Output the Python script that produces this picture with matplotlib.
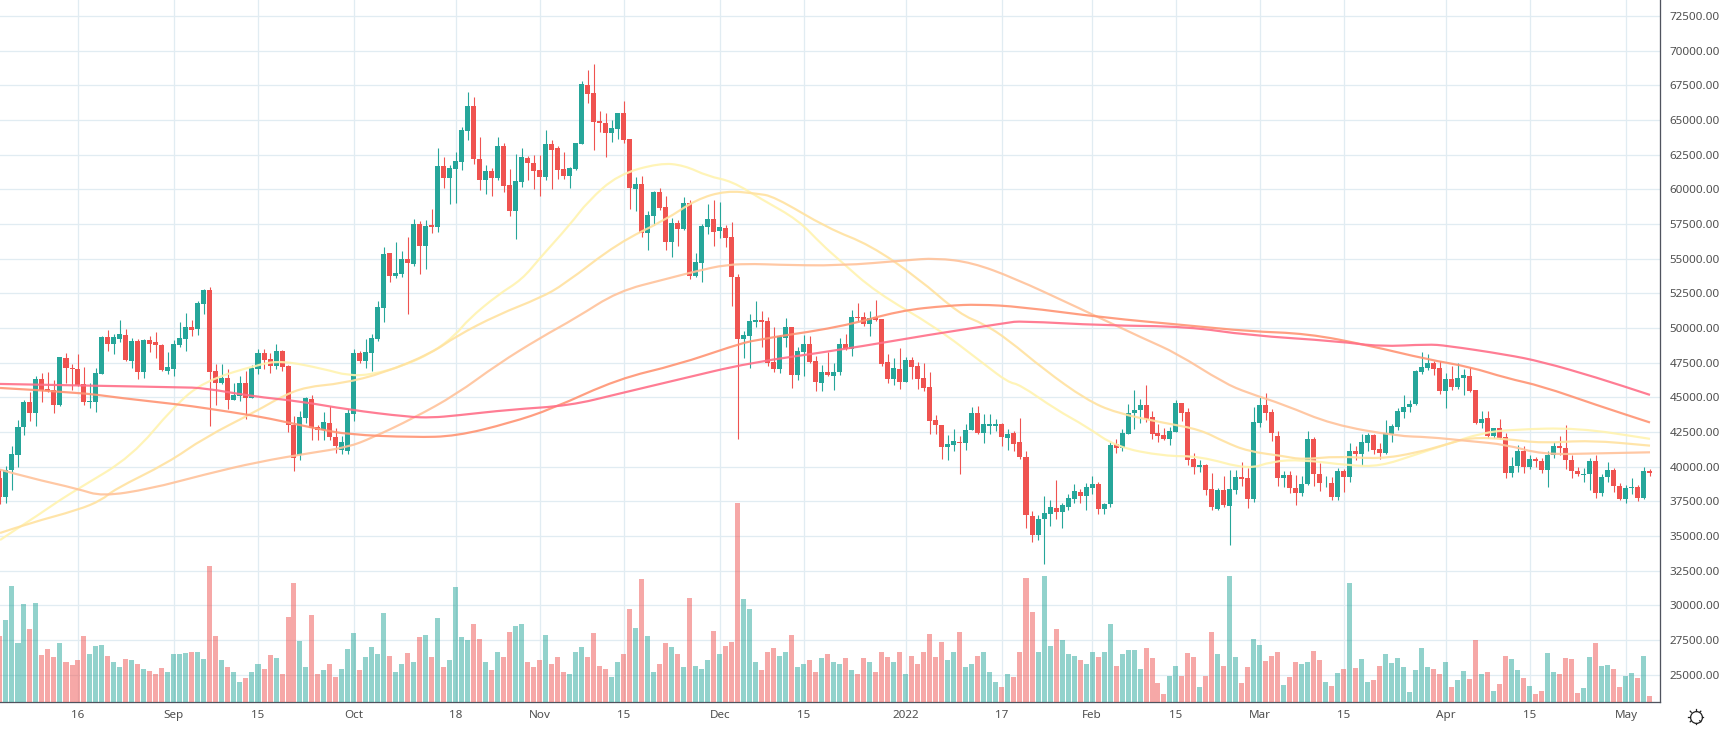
import matplotlib

matplotlib.use("Agg")
import matplotlib.pyplot as plt
from matplotlib.patches import PathPatch
from matplotlib.path import Path
import numpy as np

plt.rcParams["font.family"] = ["Noto Sans", "DejaVu Sans"]

# daily candles, first one is Aug 3 2021
opens = [
    39200, 37800, 39730, 40860, 42840, 44690, 43850, 46350, 45620, 45550,
    44420, 47860, 47140, 47070, 45980, 44640, 44690, 46700, 49370, 48870,
    49230, 49520, 47640, 49090, 46850, 49160, 49010, 48800, 46920, 47070,
    48800, 49230, 50100, 49950, 51750, 52760, 46920, 46060, 46420, 44830,
    45120, 46060, 44980, 47070, 48220, 47790, 47280, 48370, 47280, 43030,
    40800, 43530, 44900, 42880, 42670, 43170, 42160, 41200, 41100, 43820,
    48220, 47640, 48220, 49230, 51470, 55430, 53770, 53920, 55000, 54640,
    57520, 55940, 57450, 57310, 61710, 60840, 61490, 62000, 64230, 66030,
    62210, 60700, 61350, 60840, 63150, 60340, 58460, 60550, 62280, 61920,
    61420, 60910, 63290, 63000, 61490, 60990, 61490, 63290, 67550, 66970,
    64950, 64810, 64090, 64380, 65530, 63650, 60050, 60410, 56880, 58100,
    59830, 58750, 56230, 57600, 57160, 59040, 53770, 54710, 57310, 57890,
    57020, 57240, 56590, 53700, 49230, 49450, 50460, 50600, 50530, 47570,
    47070, 49300, 50100, 46630, 48290, 48870, 47640, 46060, 46850, 46560,
    46850, 48870, 48510, 50820, 50820, 50310, 50820, 50670, 47570, 46350,
    47070, 46130, 47720, 47280, 46420, 45770, 43390, 43030, 41440, 41590,
    41800, 41730, 42670, 43890, 42450, 42960, 42960, 43100, 42090, 42450,
    41800, 40720, 36450, 35050, 36250, 36600, 37040, 36700, 37110, 37690,
    38200, 37910, 38490, 38770, 36940, 37330, 41660, 41370, 42380, 43890,
    44110, 44470, 43610, 42450, 42310, 42020, 42520, 44620, 43960, 40580,
    40000, 40140, 38410, 36970, 38340, 37190, 38340, 39280, 39210, 37690,
    43170, 44470, 43970, 42240, 39150, 39400, 38420, 38060, 38740, 42020,
    39440, 38790, 38810, 37790, 39670, 39280, 41150, 40940, 41730, 42310,
    41300, 41010, 42380, 42880, 43970, 44330, 44540, 46850, 47140, 47500,
    47140, 45480, 46350, 45770, 46420, 46560, 45550, 43170, 43530, 42240,
    42810, 42150, 39530, 40070, 41150, 39940, 40550, 40420, 39720, 40830,
    41500, 41360, 40480, 39700, 39420, 39450, 40430, 38120, 39230, 39740,
    38600, 37630, 38470, 38520, 37730, 39690,
]
closes = [
    37800, 39780, 40940, 42880, 44690, 43850, 46350, 45550, 45480, 44420,
    47930, 47090, 47020, 45910, 44690, 44760, 46780, 49370, 48870, 49370,
    49590, 47720, 49090, 46850, 49160, 48870, 48800, 47000, 47210, 48870,
    49300, 50100, 49880, 51830, 52760, 46850, 46060, 46420, 44830, 45190,
    46060, 44980, 47140, 48220, 47720, 47280, 48370, 47210, 43030, 40620,
    43600, 44980, 42810, 42670, 43240, 42160, 41500, 41800, 43890, 48220,
    47640, 48290, 49300, 51540, 55360, 53770, 53990, 55000, 54710, 57520,
    55940, 57380, 57310, 61710, 60840, 61560, 62070, 64300, 66030, 62210,
    60700, 61350, 60840, 63150, 60260, 58460, 60630, 62360, 61920, 61350,
    60910, 63290, 62860, 61420, 60990, 61560, 63370, 67620, 66900, 64880,
    64810, 64090, 64450, 65530, 63580, 60120, 60410, 56880, 58170, 59830,
    58680, 56230, 57600, 57160, 59040, 53770, 54780, 57380, 57890, 56950,
    57310, 56510, 53700, 49230, 49520, 50530, 50580, 50460, 47500, 47070,
    49450, 50100, 46630, 48360, 48870, 47570, 46130, 46850, 46630, 46850,
    48870, 48510, 50820, 50750, 50310, 50750, 50600, 47430, 46350, 47140,
    46130, 47720, 47210, 46350, 45700, 43320, 43030, 41440, 41660, 41870,
    41730, 42670, 43890, 42450, 43100, 43100, 43100, 42160, 42380, 41660,
    40720, 36500, 35050, 36250, 36650, 37050, 36700, 37260, 37760, 38270,
    37910, 38560, 38770, 36950, 37330, 41590, 41370, 42450, 43890, 44110,
    44470, 43460, 42380, 42240, 42020, 42600, 44620, 43890, 40500, 40000,
    40140, 38340, 37050, 38340, 37260, 38410, 39280, 39130, 37690, 43250,
    44470, 43890, 42450, 39150, 39400, 38420, 38060, 38740, 42020, 39440,
    38790, 38810, 37790, 39670, 39280, 41150, 40940, 41800, 42310, 41230,
    41010, 42450, 42960, 44040, 44330, 44540, 46920, 47210, 47500, 47070,
    45480, 46350, 45770, 46420, 46630, 45480, 43170, 43460, 42240, 42810,
    42090, 39530, 40070, 41150, 39940, 40550, 40420, 39720, 40830, 41500,
    41360, 40480, 39700, 39450, 39460, 40430, 38120, 39230, 39740, 38600,
    37630, 38470, 38520, 37730, 39690, 39550,
]
highs = [
    39830, 40020, 41470, 43390, 44830, 45400, 46560, 46780, 46850, 46270,
    47930, 48220, 47430, 48150, 47210, 46060, 47140, 49450, 49880, 49590,
    50600, 49950, 49300, 49230, 49230, 49450, 49740, 48870, 48290, 49160,
    50460, 51110, 50600, 51970, 52840, 52980, 47430, 47430, 47070, 46060,
    46560, 46920, 47360, 48510, 48510, 48220, 48870, 48440, 47360, 43680,
    44040, 45050, 45190, 43030, 43970, 44400, 42810, 42170, 44180, 48510,
    48360, 49230, 49590, 51970, 55870, 55430, 56230, 55580, 56590, 57890,
    57740, 57810, 58600, 63000, 62360, 61780, 62720, 64520, 67040, 66680,
    63800, 61780, 61560, 63800, 63370, 61490, 62570, 63000, 62430, 62500,
    62500, 64300, 63580, 63150, 62720, 61640, 63370, 67840, 68630, 69060,
    65670, 65530, 65030, 65530, 66400, 63650, 60910, 60990, 58460, 59900,
    60120, 59540, 57960, 57810, 59470, 59260, 55430, 57520, 58970, 59260,
    59110, 57450, 57670, 53920, 49810, 51030, 51970, 51250, 50820, 50100,
    49520, 50750, 50100, 48650, 49520, 49450, 48000, 47360, 48290, 47500,
    49300, 49590, 51320, 51830, 51180, 51250, 52040, 50670, 48150, 47860,
    48580, 47930, 47930, 47570, 47500, 46850, 43750, 43030, 42310, 42740,
    42240, 43100, 44330, 44400, 43820, 43820, 43460, 43170, 42740, 42600,
    43530, 41150, 36800, 36500, 37900, 37620, 39000, 37400, 38050, 38770,
    38410, 38850, 39350, 38920, 37400, 41800, 42020, 42740, 44540, 45550,
    44900, 45910, 44040, 43100, 42810, 42880, 44830, 44620, 44250, 41010,
    40500, 40220, 39570, 38490, 39350, 39780, 39780, 40360, 39930, 44330,
    45050, 45340, 44180, 42600, 39700, 39650, 39400, 39300, 42600, 42100,
    40290, 39350, 39250, 39930, 39850, 41730, 41510, 42380, 42450, 42380,
    41730, 43390, 43100, 44250, 45190, 44830, 47000, 48290, 48150, 47640,
    47640, 46780, 47280, 47500, 47070, 47210, 45550, 44040, 44040, 42810,
    43460, 42420, 40700, 41550, 41500, 40850, 40700, 40600, 41100, 41750,
    42200, 43000, 40800, 39950, 39900, 40600, 40800, 39450, 40350, 39900,
    38800, 38650, 39150, 38650, 39950, 39800,
]
lows = [
    37300, 37400, 38340, 39950, 42300, 43320, 42910, 44690, 45400, 43850,
    44350, 46030, 45550, 45790, 44470, 44250, 43970, 46700, 48360, 48150,
    49010, 47640, 47140, 46350, 46420, 48290, 47860, 46920, 46700, 46560,
    48650, 48360, 49450, 49520, 51030, 42960, 44470, 45950, 44180, 44830,
    44760, 43460, 44980, 46700, 47070, 46780, 47070, 46920, 42520, 39700,
    40500, 43170, 41950, 41950, 41950, 41950, 41000, 40900, 40900, 43320,
    47500, 47140, 46920, 49090, 50460, 53340, 53630, 53700, 51030, 54500,
    53920, 54280, 56880, 56950, 60120, 58970, 59040, 61420, 63580, 61850,
    59980, 59690, 59540, 60700, 59830, 58100, 56440, 60190, 60700, 60050,
    59540, 60700, 60050, 60770, 60770, 60120, 61420, 63290, 66250, 62860,
    64160, 62360, 63440, 63650, 63370, 58600, 58460, 56590, 55650, 57450,
    58530, 55650, 55140, 55940, 57090, 53560, 53700, 53340, 56800, 55940,
    56510, 55870, 51610, 41970, 47860, 47140, 50100, 48650, 47280, 46850,
    46780, 48650, 45700, 46270, 46560, 47500, 45480, 45480, 46560, 45550,
    46630, 48440, 48000, 50530, 50170, 49450, 50530, 47280, 46060, 45910,
    45620, 46130, 46350, 45620, 45480, 42380, 42380, 40580, 40500, 41150,
    39490, 41230, 42670, 42380, 41730, 42380, 42600, 41510, 41230, 41150,
    40580, 35570, 34550, 34700, 32970, 35700, 36200, 35600, 36900, 37400,
    37400, 36900, 38050, 36600, 36600, 37110, 41010, 41150, 42380, 42740,
    43170, 43250, 42020, 41800, 41950, 41590, 42520, 43320, 40140, 39490,
    39640, 37980, 36900, 36900, 37110, 34340, 38050, 38630, 37040, 37480,
    42880, 43390, 41870, 38600, 38550, 38100, 37200, 37900, 38700, 38600,
    38250, 38550, 37600, 37600, 38150, 38900, 40500, 40140, 41150, 40940,
    40580, 40940, 41800, 42670, 43530, 43970, 44470, 46700, 47000, 46630,
    45260, 44250, 45550, 45620, 45190, 45410, 43100, 42810, 42090, 42090,
    42020, 39200, 39250, 39600, 39550, 39800, 40000, 39550, 38550, 40600,
    40850, 39800, 39200, 39300, 38900, 38300, 37750, 37900, 38900, 38200,
    37580, 37400, 38050, 37500, 37670, 39350,
]
# volume has no scale on the chart, so these are just bar heights read off it
volumes = [
    66, 82, 116, 59, 98, 73, 99, 47, 53, 45,
    59, 40, 37, 42, 66, 48, 56, 57, 46, 40,
    35, 43, 42, 38, 33, 31, 28, 34, 30, 48,
    48, 49, 50, 50, 43, 136, 66, 42, 35, 30,
    20, 24, 30, 38, 33, 47, 44, 28, 85, 119,
    61, 35, 87, 28, 32, 38, 25, 33, 53, 69,
    32, 45, 55, 48, 89, 46, 30, 38, 49, 40,
    65, 67, 45, 84, 35, 42, 115, 65, 62, 78,
    63, 40, 32, 50, 45, 70, 76, 78, 40, 35,
    42, 67, 38, 45, 30, 28, 50, 55, 45, 69,
    36, 33, 25, 40, 48, 93, 74, 123, 66, 30,
    38, 59, 55, 48, 35, 104, 36, 33, 42, 71,
    48, 56, 60, 199, 103, 93, 40, 32, 50, 54,
    46, 50, 67, 35, 38, 42, 30, 44, 48, 40,
    38, 44, 32, 28, 44, 40, 30, 50, 45, 40,
    50, 28, 46, 38, 50, 68, 45, 60, 42, 50,
    70, 35, 38, 46, 50, 30, 20, 15, 28, 25,
    50, 124, 90, 50, 126, 56, 73, 62, 48, 46,
    42, 38, 50, 45, 50, 78, 36, 48, 52, 52,
    33, 54, 44, 19, 8, 26, 36, 26, 49, 45,
    15, 26, 70, 48, 36, 126, 45, 19, 35, 63,
    57, 41, 46, 50, 17, 25, 40, 38, 40, 51,
    42, 20, 16, 29, 33, 119, 34, 43, 20, 22,
    36, 48, 39, 44, 35, 10, 32, 54, 35, 33,
    28, 40, 15, 22, 31, 23, 62, 28, 30, 11,
    18, 46, 43, 32, 24, 16, 8, 11, 49, 30,
    28, 44, 43, 9, 14, 45, 59, 36, 37, 33,
    15, 26, 29, 24, 46, 6,
]

# moving averages, read at some days only
ma1_days = [0, 3, 6, 10, 13, 22, 29, 34, 43, 47, 54, 58, 62, 67, 72, 76, 78, 83, 87, 90, 95, 98, 103,
            110, 114, 118, 122, 127, 133, 137, 140, 146, 156, 164, 168, 170, 176, 181, 186, 194, 200,
            208, 212, 217, 225, 230, 236, 241, 247, 252, 263, 275]
ma1 = [34700, 35570, 36400, 37590, 38390, 40740, 44350, 46150, 47360, 47640, 47040, 46560, 46630, 47240,
       48200, 49520, 50600, 52400, 53490, 55050, 57450, 59140, 61060,
       61900, 61730, 60940, 60580, 59260, 57800, 56000, 54860, 52570, 50050, 47400, 46080, 45910, 44110,
       42910, 41420, 40750, 40750,
       39780, 40380, 40500, 40070, 40020, 40870, 41590, 42430, 42670, 42800, 42000]
ma2_days = [0, 5, 13, 17, 19, 28, 34, 43, 47, 51, 57, 64, 72, 76, 83, 90, 94, 103, 111, 116, 121, 126,
            129, 138, 145, 153, 160, 164, 168, 174, 181, 186, 194, 200, 204, 208, 214, 217, 223, 230,
            236, 241, 245, 251, 257, 265, 275]
ma2 = [35210, 35930, 36870, 37590, 38340, 40270, 42070, 44060, 45070, 45750, 45990, 46750, 48200, 49400,
       50960, 52160, 53130, 56130, 57810, 59260, 59900, 59700,
       59490, 57180, 55990, 53600, 50980, 50290, 49160, 47000, 44830, 43870, 43150, 42670, 41800, 41100,
       40750, 40500, 40750, 40550,
       40990, 41590, 42100, 42000, 41680, 41900, 41510]
ma3_days = [0, 5, 13, 17, 25, 34, 43, 52, 58, 62, 69, 76, 83, 90, 96, 103, 111, 116, 121, 126, 129, 140,
            151, 156, 162, 169, 179, 191, 196, 204, 208, 214, 222, 233, 238, 245, 251, 257, 266, 275]
ma3 = [39780, 39180, 38390, 37850, 38390, 39420, 40340, 41000, 41400, 42070, 43510, 45190, 47400, 49280,
       50720, 52640, 53530, 54090, 54570, 54620, 54560, 54480,
       54880, 55040, 54720, 53600, 51600, 49150, 48200, 46030, 45310, 44470, 43030, 42190, 42140, 41830,
       41590, 40870, 40950, 41030]
ma4_days = [0, 13, 20, 30, 34, 43, 47, 53, 58, 69, 76, 85, 92, 103, 113, 122, 126, 140, 150, 158, 163,
            170, 184, 198, 208, 218, 228, 238, 245, 251, 257, 266, 275]
ma4 = [45670, 45360, 44950, 44470, 44230, 43630, 43270, 42720, 42310, 42110, 42190, 43150, 44160, 46320,
       47360, 48680, 49160, 50050, 51250, 51610, 51700,
       51530, 50740, 50180, 49760, 49590, 48750, 47720, 47190, 46390, 45800, 44450, 43180]
ma5_days = [0, 30, 34, 42, 50, 58, 68, 72, 76, 85, 95, 103, 113, 125, 140, 155, 168, 170, 184, 198, 208,
            223, 230, 238, 241, 251, 257, 266, 275]
ma5 = [45960, 45720, 45670, 45070, 44710, 44110, 43580, 43530, 43680, 44110, 44400, 45240, 46270, 47500,
       48410, 49520, 50380, 50500, 50180, 50100, 49470,
       49040, 48650, 48820, 48730, 48080, 47560, 46440, 45170]

tick_days = [13, 29, 43, 59, 76, 90, 104, 120, 134, 151, 167, 182, 196, 210, 224, 241, 255, 271]
tick_labels = ["16", "Sep", "15", "Oct", "18", "Nov", "15", "Dec", "15", "2022",
               "17", "Feb", "15", "Mar", "15", "Apr", "15", "May"]

GREEN = "#26a69a"
RED = "#ef5350"
GRID = "#e1ecf2"
LINE = "#50535e"
TEXT = "#4f4f4f"
PX = 0.72  # one pixel in points at dpi 100


def rounded_line(xs, ys):
    """Line through the read values with its corners rounded off by quadratic curves."""
    verts = [(xs[0], ys[0])]
    codes = [Path.MOVETO]
    for i in range(1, len(xs) - 1):
        verts += [(xs[i], ys[i]), ((xs[i] + xs[i + 1]) / 2, (ys[i] + ys[i + 1]) / 2)]
        codes += [Path.CURVE3, Path.CURVE3]
    verts.append((xs[-1], ys[-1]))
    codes.append(Path.LINETO)
    return Path(verts, codes)


fig = plt.figure(figsize=(17.3, 7.3), dpi=100, facecolor="white")
rect = [0, 28 / 730, 1660 / 1730, 702 / 730]
ax = fig.add_axes(rect, zorder=1)
vol_ax = fig.add_axes(rect, zorder=2, frameon=False)

days = np.arange(len(opens))
o, h, l, c = map(np.array, (opens, highs, lows, closes))
colors = np.where(c >= o, GREEN, RED)

ax.vlines(days, l, h, colors=colors, linewidth=1.1 * PX, zorder=3)
ax.bar(days, np.abs(c - o), bottom=np.minimum(o, c), width=5 / 6, color=colors, linewidth=0, zorder=4)

ma_lines = [
    (ma1_days, ma1, "#fff3b0"),
    (ma2_days, ma2, "#ffe2a0"),
    (ma3_days, ma3, "#ffc29a"),
    (ma4_days, ma4, "#ff9473"),
    (ma5_days, ma5, "#ff6f88"),
]
for ma_days, ma_vals, col in ma_lines:
    ax.add_patch(PathPatch(rounded_line(ma_days, ma_vals), facecolor="none", edgecolor=col,
                           linewidth=2.2 * PX, alpha=0.9, zorder=5))

vol_ax.bar(days, volumes, width=5 / 6, color=colors, alpha=0.5, linewidth=0)
vol_ax.set_ylim(0, 702)
vol_ax.axis("off")

for a in (ax, vol_ax):
    a.set_xlim(0, 1660 / 6)
ax.set_ylim(23019, 73654)

ax.yaxis.tick_right()
ax.set_yticks(np.arange(25000, 72501, 2500))
ax.set_yticklabels([f"{v:.2f}" for v in np.arange(25000, 72501, 2500)])
ax.set_xticks(tick_days)
ax.set_xticklabels(tick_labels)
ax.tick_params(axis="y", length=0, pad=7, labelsize=8.4, labelcolor=TEXT)
ax.tick_params(axis="x", length=0, pad=6, labelsize=8.4, labelcolor=TEXT)
for lab in ax.get_xticklabels():
    if lab.get_text() == "2022":
        lab.set_fontweight("bold")
ax.grid(True, color=GRID, linewidth=1.3 * PX, zorder=0)
ax.set_axisbelow(True)
for side in ("top", "left"):
    ax.spines[side].set_visible(False)
for side in ("right", "bottom"):
    ax.spines[side].set_color(LINE)
    ax.spines[side].set_linewidth(1.3 * PX)

# settings icon in the lower right corner
icon = fig.add_axes([0, 0, 1, 1], zorder=3)
icon.set_xlim(0, 1730)
icon.set_ylim(730, 0)
icon.axis("off")
icon.plot([1695.5], [716.5], marker="o", markersize=8.5, markerfacecolor="white",
          markeredgecolor="#222222", markeredgewidth=0.9)
for ang in np.arange(0, 360, 45):
    dx, dy = np.cos(np.radians(ang)), np.sin(np.radians(ang))
    icon.plot([1695.5 + 6 * dx, 1695.5 + 7.5 * dx], [716.5 + 6 * dy, 716.5 + 7.5 * dy],
              color="#222222", linewidth=0.9)

fig.savefig("out.png", dpi=100)
